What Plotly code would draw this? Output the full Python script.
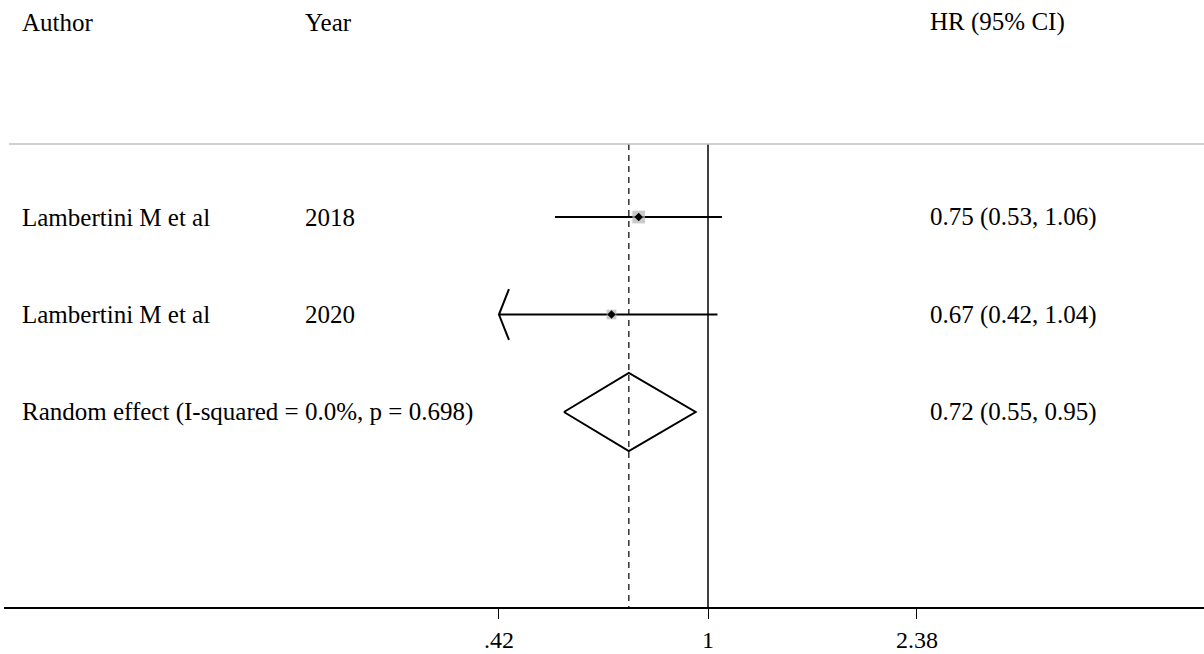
import plotly.graph_objects as go
import math

authors = ["Lambertini M et al", "Lambertini M et al"]
years = ["2018", "2020"]
hr = [0.75, 0.67]
lower = [0.53, 0.42]
upper = [1.06, 1.04]
weights = [63.1, 36.9]
hr_text = ["0.75 (0.53, 1.06)", "0.67 (0.42, 1.04)"]
pooled_label = "Random effect (I-squared = 0.0%, p = 0.698)"
pooled = [0.72, 0.55, 0.95]
pooled_text = "0.72 (0.55, 0.95)"
tick_vals = [0.42, 1, 2.38]
tick_text = [".42", "1", "2.38"]
headers = ["Author", "Year", "HR (95% CI)"]

FONT = "Liberation Serif, Times New Roman, serif"
FS = 25
W, H = 1204, 654
L = 4
axis_min = 0.42

# log range from pixel geometry
ppd = (917 - 499) / (math.log10(2.38) - math.log10(0.42))
x0 = (L - 708) / ppd
x1 = (W - 708) / ppd

def px(p):
    return (p - L) / (W - L)

rows = [1, 2]
pooled_row = 3
top_line = 0.25
axis_row = 5.0

fig = go.Figure()

# reference line at 1
fig.add_trace(go.Scatter(x=[1, 1], y=[top_line, axis_row], mode="lines",
                         line=dict(color="black", width=1.5), hoverinfo="skip"))
# dashed line at pooled estimate
fig.add_trace(go.Scatter(x=[pooled[0], pooled[0]], y=[top_line, axis_row], mode="lines",
                         line=dict(color="black", width=1.2, dash="6px,5px"), hoverinfo="skip"))

for i in range(len(hr)):
    lo = max(lower[i], axis_min)
    fig.add_trace(go.Scatter(x=[lo, upper[i]], y=[rows[i], rows[i]], mode="lines",
                             line=dict(color="black", width=2), hoverinfo="skip"))
    if lower[i] <= axis_min:
        f = 10 ** (10 / ppd)
        fig.add_trace(go.Scatter(x=[lo * f, lo, lo * f], y=[rows[i] - 0.26, rows[i], rows[i] + 0.26],
                                 mode="lines", line=dict(color="black", width=2), hoverinfo="skip"))

# weight boxes
fig.add_trace(go.Scatter(x=hr, y=rows, mode="markers",
                         marker=dict(symbol="square", color="#b4b4b4",
                                     size=[1.6 * math.sqrt(w) for w in weights], line=dict(width=0)),
                         hoverinfo="skip"))
fig.add_trace(go.Scatter(x=hr, y=rows, mode="markers",
                         marker=dict(symbol="diamond", color="black", size=6.5),
                         hoverinfo="skip"))

# pooled diamond
fig.add_trace(go.Scatter(x=[pooled[1], pooled[0], pooled[2], pooled[0], pooled[1]],
                         y=[pooled_row, pooled_row - 0.4, pooled_row, pooled_row + 0.4, pooled_row],
                         mode="lines", line=dict(color="black", width=2), hoverinfo="skip"))

ann = []
def txt(xp, y, s):
    ann.append(dict(x=px(xp - 2), y=y, xref="paper", yref="y", text=s, showarrow=False,
                    xanchor="left", yanchor="middle", font=dict(family=FONT, size=FS, color="black")))

txt(22, -1.0, headers[0])
txt(305, -1.0, headers[1])
txt(930, -1.0, headers[2])
for i in range(len(hr)):
    txt(22, rows[i], authors[i])
    txt(305, rows[i], years[i])
    txt(930, rows[i], hr_text[i])
txt(22, pooled_row, pooled_label)
txt(930, pooled_row, pooled_text)

fig.update_layout(
    width=W, height=H,
    margin=dict(l=L, r=0, t=0, b=654 - 607),
    plot_bgcolor="white", paper_bgcolor="white",
    showlegend=False,
    annotations=ann,
    shapes=[dict(type="line", xref="paper", yref="y", x0=px(9), x1=1, y0=top_line, y1=top_line,
                 line=dict(color="#c0c0c0", width=1.5))],
    xaxis=dict(type="log", range=[x0, x1], showgrid=False, zeroline=False,
               showline=True, linecolor="black", linewidth=1.5,
               ticks="outside", ticklen=10, tickwidth=1, tickcolor="black",
               tickvals=tick_vals, ticktext=tick_text,
               tickfont=dict(family=FONT, size=24, color="black")),
    yaxis=dict(range=[axis_row, -1.226], showgrid=False, zeroline=False, showline=False,
               showticklabels=False, ticks=""),
)

fig.write_html("out.html", config={"displayModeBar": False},
               post_script="document.body.style.margin='0';document.body.style.overflow='hidden';")
